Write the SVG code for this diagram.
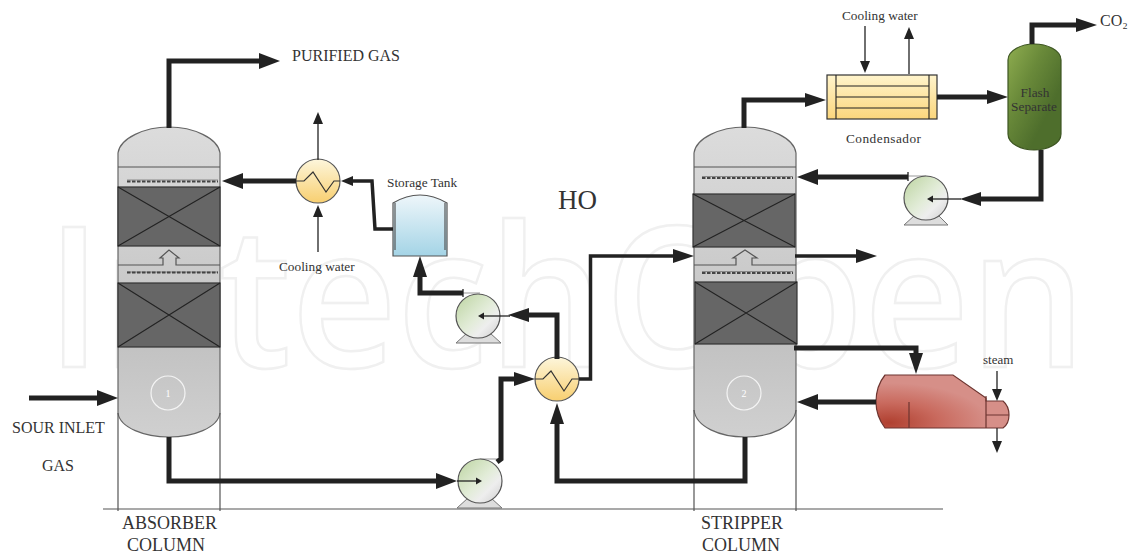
<svg xmlns="http://www.w3.org/2000/svg" width="1130" height="556" viewBox="0 0 1130 556">
<style>
text{font-family:"Liberation Serif","DejaVu Serif",serif;fill:#333}
.wm{font-family:"Open Sans","Liberation Sans",sans-serif;font-weight:600;font-size:180px;fill:none;stroke:#f0f0f0;stroke-width:2.3}
.col{fill:url(#gcol);stroke:#666;stroke-width:1.2}
.pack{fill:#666;stroke:#333;stroke-width:1.2}
.x{fill:none;stroke:#222;stroke-width:1.1}
.ln{fill:none;stroke:#555;stroke-width:1.2}
.spray{fill:none;stroke:#444;stroke-width:2.2;stroke-dasharray:3.500 1.500}
.spl{fill:none;stroke:#777;stroke-width:0.8}
.th{fill:none;stroke:#222;stroke-width:5}
.md{fill:none;stroke:#222;stroke-width:3.5}
.tn{fill:none;stroke:#222;stroke-width:1.3}
.gr{fill:none;stroke:#aaa;stroke-width:1.2}
.base{fill:#ddd;stroke:#777;stroke-width:1}
.pump{fill:url(#gpump);stroke:#555;stroke-width:1.2}
.hx{fill:url(#ghx);stroke:#555;stroke-width:1.2}
.lbl{font-size:13.300px}
.big{font-size:18px}
.cap{font-size:16px}
</style>
<defs>
<linearGradient id="gcol" x1="0" y1="0" x2="0" y2="1"><stop offset="0" stop-color="#dcdcdc"/><stop offset="0.7" stop-color="#c2c2c2"/><stop offset="1" stop-color="#d0d0d0"/></linearGradient>
<linearGradient id="gpump" x1="0" y1="0" x2="1" y2="1"><stop offset="0" stop-color="#bcd4a0"/><stop offset="0.5" stop-color="#e2ecd8"/><stop offset="0.7" stop-color="#eeeeee"/><stop offset="1" stop-color="#cccccc"/></linearGradient>
<linearGradient id="ghx" x1="0" y1="0" x2="0" y2="1"><stop offset="0" stop-color="#fdf6dc"/><stop offset="1" stop-color="#f8cf70"/></linearGradient>
<linearGradient id="gtank" x1="0" y1="0" x2="0" y2="1"><stop offset="0" stop-color="#eef6fa"/><stop offset="1" stop-color="#a4d4e6"/></linearGradient>
<linearGradient id="gcond" x1="0" y1="0" x2="0" y2="1"><stop offset="0" stop-color="#fff4cc"/><stop offset="1" stop-color="#fbd67c"/></linearGradient>
<linearGradient id="gflash" x1="0" y1="0" x2="1" y2="1"><stop offset="0" stop-color="#8fae50"/><stop offset="0.35" stop-color="#6a8a3a"/><stop offset="0.7" stop-color="#4e6e2c"/><stop offset="1" stop-color="#4e6e2c"/></linearGradient>
<radialGradient id="greb" cx="0.1" cy="0.9" r="0.75"><stop offset="0" stop-color="#b04030"/><stop offset="0.5" stop-color="#c96a5e"/><stop offset="1" stop-color="#d68f88"/></radialGradient>
<marker id="aT" markerUnits="userSpaceOnUse" markerWidth="22" markerHeight="18" refX="0" refY="9" orient="auto"><path d="M0 1L21 9L0 17z" fill="#222"/></marker>
<marker id="aM" markerUnits="userSpaceOnUse" markerWidth="22" markerHeight="16" refX="0" refY="8" orient="auto"><path d="M0 1L21 8L0 15z" fill="#222"/></marker>
<marker id="aS" markerUnits="userSpaceOnUse" markerWidth="13" markerHeight="14" refX="0" refY="7" orient="auto"><path d="M0 2L12 7L0 12z" fill="#222"/></marker>
<marker id="aN" markerUnits="userSpaceOnUse" markerWidth="6" markerHeight="8" refX="0" refY="4" orient="auto"><path d="M0 0.500L6 4L0 7.500z" fill="#222"/></marker>
</defs>
<rect width="1130" height="556" fill="#fff"/>
<text class="wm" transform="translate(46 367) scale(1.02 1.09)" x="0" y="0">IntechOpen</text>

<g id="absorber-column">
<path class="col" d="M118 153C120 138 145 127 169 127C193 127 218 138 220 153V413C218 428 193 437 169 437C145 437 120 428 118 413z"/>
<path class="ln" d="M118 167H220"/>
<path class="spl" d="M127 180H218M127 272H218"/>
<path class="spray" d="M127 181.500H218M127 272.500H218"/>
<rect class="pack" x="118" y="187" width="102" height="59"/><path class="x" d="M118 187L220 246M220 187L118 246"/>
<rect class="pack" x="118" y="283" width="102" height="64"/><path class="x" d="M118 283L220 347M220 283L118 347"/>
<path class="ln" d="M118 265H163V258H160L169 250L179 258H176V265H220"/>
<circle cx="168" cy="393" r="17" fill="none" stroke="#f4f4f4" stroke-width="1.2"/>
<text x="168" y="397" font-size="10" text-anchor="middle" style="fill:#fff">1</text>
<path class="ln" d="M118 413V511M220 413V511"/>
</g>

<g id="stripper-column">
<path class="col" d="M694 153C696 138 720 127 745 127C770 127 794 138 796 153V410C794 427 770 437 745 437C720 437 696 427 694 410z"/>
<path class="ln" d="M694 167H796"/>
<path class="spl" d="M702 176.500H793M702 271.500H793"/>
<path class="spray" d="M702 178H793M702 273H793"/>
<rect class="pack" x="693" y="194" width="102" height="53"/><path class="x" d="M693 194L795 247M795 194L693 247"/>
<rect class="pack" x="695" y="282" width="102" height="62"/><path class="x" d="M695 282L797 344M797 282L695 344"/>
<path class="ln" d="M694 265H736V258H733L745 250L757 258H752V265H796"/>
<circle cx="744" cy="393" r="17" fill="none" stroke="#f4f4f4" stroke-width="1.2"/>
<text x="744" y="397" font-size="10" text-anchor="middle" style="fill:#fff">2</text>
<path class="ln" d="M694 410V511M796 410V511"/>
</g>

<g id="ground"><path d="M103 509H943" stroke="#555" stroke-width="1.2" fill="none"/></g>

<g id="cooler"><circle class="hx" cx="318" cy="181" r="22"/><path d="M296 181H304L313 172L326 192L334 181H340" fill="none" stroke="#333" stroke-width="1.2"/></g>
<g id="heat-exchanger"><circle class="hx" cx="557" cy="379" r="22"/><path d="M535 379H543L551 371L564 391L572 379H579" fill="none" stroke="#333" stroke-width="1.2"/></g>

<g id="storage-tank">
<path d="M393 203Q420 187 447 203V256H393z" fill="url(#gtank)" stroke="#555" stroke-width="1.2"/>
<path class="ln" d="M395 203V250M445 203V250"/>
</g>

<g id="pump-1"><path class="base" d="M456 343L467 333H490L501 343z"/><path class="gr" d="M463 293H480"/><circle class="pump" cx="478" cy="316" r="22"/><path class="tn" d="M463 289V297"/></g>
<g id="pump-2"><path class="base" d="M457 508L468 498H491L502 508z"/><path class="gr" d="M480 459H498"/><circle class="pump" cx="480" cy="481" r="22"/></g>
<g id="pump-3"><path class="base" d="M904 225L915 215H938L948 225z"/><path class="gr" d="M908 176H926"/><circle class="pump" cx="926" cy="198" r="22"/><path class="tn" d="M908 172V181"/></g>

<g id="condenser">
<rect x="827" y="75" width="110" height="44" fill="url(#gcond)" stroke="#333" stroke-width="1.2"/>
<path class="x" d="M836 75V119M929 75V119M836 86H929M836 97H929M836 108H929"/>
<text class="lbl" x="846" y="143" textLength="75">Condensador</text>
</g>

<g id="flash-separator">
<path d="M1008 60C1008 50 1022 44 1034 44C1047 44 1061 50 1061 60V134C1061 144 1047 150 1034 150C1022 150 1008 144 1008 134z" fill="url(#gflash)" stroke="#3d5522" stroke-width="1.2"/>
<text class="lbl" x="1035" y="97" text-anchor="middle">Flash</text>
<text class="lbl" x="1034" y="111" text-anchor="middle">Separate</text>
</g>

<g id="reboiler">
<path d="M885 375H953L986 398V401H1003Q1009 406 1009 415Q1009 424 1003 428H885Q876 416 876 402Q876 386 885 375z" fill="url(#greb)" stroke="#6d3530" stroke-width="1.2"/>
<path fill="none" stroke="#6d3530" stroke-width="1.2" d="M986 396V428M986 415H1009M909 402V428"/>
</g>

<g id="connectors">
<path class="th" d="M169 128V61H259" marker-end="url(#aT)"/>
<path class="th" d="M29 398H97" marker-end="url(#aT)"/>
<path class="th" d="M296 181H243" marker-end="url(#aT)"/>
<path class="tn" d="M318 160V124" marker-end="url(#aS)"/>
<path class="tn" d="M318 252V217" marker-end="url(#aS)"/>
<path class="md" d="M393 229H375L372 181H353" marker-end="url(#aS)"/>
<path class="th" d="M463 293H420V277" marker-end="url(#aM)"/>
<path class="th" d="M557 359V315H529" marker-end="url(#aM)"/>
<path class="tn" d="M510 316H484" marker-end="url(#aN)"/>
<path class="th" d="M745 437V481H557V424" marker-end="url(#aM)"/>
<path class="th" d="M169 437V481H436" marker-end="url(#aT)"/>
<path class="tn" d="M457 481H476" marker-end="url(#aN)"/>
<path class="th" d="M497 462L501 459V379H514" marker-end="url(#aM)"/>
<path class="md" d="M579 379H590.500V256H673" marker-end="url(#aM)"/>
<path class="th" d="M744 128V100H805" marker-end="url(#aM)"/>
<path class="th" d="M937 97H987" marker-end="url(#aM)"/>
<path class="tn" d="M865 26V61" marker-end="url(#aS)"/>
<path class="tn" d="M909 74V39" marker-end="url(#aS)"/>
<path class="th" d="M1032 44V25H1076" marker-end="url(#aM)"/>
<path class="th" d="M1041 150V199H981" marker-end="url(#aM)"/>
<path class="tn" d="M961 199H933" marker-end="url(#aN)"/>
<path class="th" d="M908 177H818" marker-end="url(#aT)"/>
<path class="md" d="M795 256H856" marker-end="url(#aM)"/>
<path class="th" d="M794 348H916V353" marker-end="url(#aM)"/>
<path class="th" d="M876 402H818" marker-end="url(#aT)"/>
<path class="tn" d="M997 371V389" marker-end="url(#aS)"/>
<path class="tn" d="M997 428V441" marker-end="url(#aS)"/>
</g>

<g id="labels">
<text class="cap" x="292" y="61">PURIFIED GAS</text>
<text class="cap" x="12" y="433">SOUR INLET</text>
<text class="cap" x="42" y="471">GAS</text>
<text class="big" x="122" y="529">ABSORBER</text>
<text class="big" x="127" y="551">COLUMN</text>
<text class="big" x="701" y="529">STRIPPER</text>
<text class="big" x="702" y="551">COLUMN</text>
<text x="558" y="209" font-size="27">HO</text>
<text class="lbl" x="387" y="187">Storage Tank</text>
<text class="lbl" x="279" y="271">Cooling water</text>
<text class="lbl" x="842" y="20">Cooling water</text>
<text x="983" y="364" font-size="13">steam</text>
<text x="1100" y="26" font-size="16">CO₂</text>
</g>
</svg>
